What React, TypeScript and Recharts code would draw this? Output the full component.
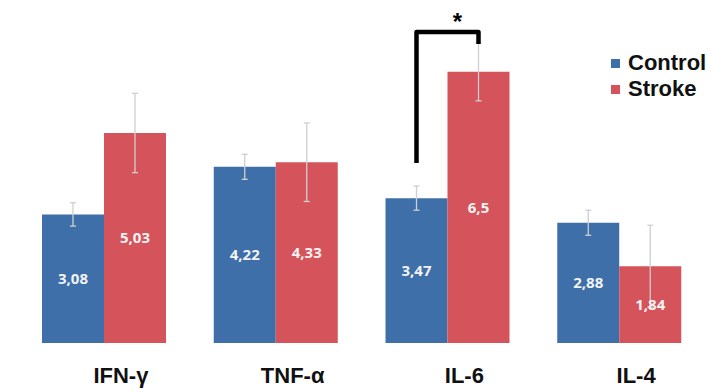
import { Bar, BarChart, ErrorBar, LabelList, Legend, XAxis, YAxis } from 'recharts';

const CATEGORIES = ['IFN-γ', 'TNF-α', 'IL-6', 'IL-4'];
const CONTROL = [3.08, 4.22, 3.47, 2.88];
const STROKE = [5.03, 4.33, 6.5, 1.84];
const CONTROL_ERR = [0.28, 0.3, 0.29, 0.3];
const STROKE_ERR = [0.95, 0.94, 0.7, 0.98];
// significance bracket: [top of bracket, left leg end, right leg end] in data units
const SIG = [null, null, [7.45, 4.31, 7.16], null];

const BLUE = '#3e6fa8';
const RED = '#d5535a';

const data = CATEGORIES.map((name, i) => ({
  name,
  control: CONTROL[i],
  stroke: STROKE[i],
  controlErr: CONTROL_ERR[i],
  strokeErr: STROKE_ERR[i],
  sig: SIG[i],
}));

const fmt = (v: number) => String(v).replace('.', ',');

function Tick({ x, y, payload }: any) {
  return (
    <text
      x={x + 17}
      y={y + 32}
      textAnchor="middle"
      fontFamily="'Liberation Sans', Arial, sans-serif"
      fontWeight={700}
      fontSize={22}
      fill="#111"
    >
      {payload.value}
    </text>
  );
}

function Bracket(props: any) {
  const { x, y, width, height, index, value } = props;
  const sig = SIG[index];
  if (!sig) return null;
  const base = y + height;
  const ppu = height / value;
  const lx = x - width / 2;
  const rx = x + width / 2;
  const top = base - sig[0] * ppu;
  const lEnd = base - sig[1] * ppu;
  const rEnd = base - sig[2] * ppu;
  return (
    <g>
      <path
        d={`M${lx},${lEnd} L${lx},${top} L${rx},${top} L${rx},${rEnd}`}
        fill="none"
        stroke="#000"
        strokeWidth={4.5}
        strokeLinejoin="round"
      />
      <text
        x={(lx + rx) / 2 + 10}
        y={top - 2}
        textAnchor="middle"
        fontFamily="'Liberation Sans', Arial, sans-serif"
        fontWeight={700}
        fontSize={24}
        fill="#000"
      >
        *
      </text>
    </g>
  );
}

function LegendBox() {
  const items = [
    { label: 'Control', color: BLUE },
    { label: 'Stroke', color: RED },
  ];
  return (
    <div>
      {items.map((it) => (
        <div
          key={it.label}
          style={{
            display: 'flex',
            alignItems: 'center',
            height: 26,
            fontFamily: "'Liberation Sans', Arial, sans-serif",
            fontWeight: 700,
            fontSize: 22,
            color: '#111',
            whiteSpace: 'nowrap',
          }}
        >
          <span style={{ width: 9, height: 9, background: it.color, marginRight: 8, display: 'inline-block' }} />
          {it.label}
        </div>
      ))}
    </div>
  );
}

export default function App() {
  return (
    <div style={{ position: 'absolute', left: 0, top: 0, width: 711, height: 389, background: '#fff', overflow: 'hidden' }}>
      <BarChart
        width={711}
        height={389}
        data={data}
        margin={{ top: 9, right: 6, bottom: 6, left: 18 }}
        barGap={0}
        barSize={62}
      >
        <XAxis
          dataKey="name"
          height={40}
          axisLine={false}
          tickLine={false}
          tick={<Tick />}
          interval={0}
        />
        <YAxis hide domain={[0, 8]} />
        <Legend
          layout="horizontal"
          verticalAlign="middle"
          align="center"
          content={<LegendBox />}
          wrapperStyle={{ top: 50, left: 611, width: 140 }}
        />
        <Bar dataKey="control" name="Control" fill={BLUE} isAnimationActive={false}>
          <ErrorBar dataKey="controlErr" width={3} stroke="#cfcfcf" strokeWidth={1.3} direction="y" />
          <LabelList
            dataKey="control"
            position="center"
            formatter={fmt}
            fill="#f3f3f3"
            fontFamily="'Open Sans', sans-serif"
            fontWeight={700}
            fontSize={15}
          />
        </Bar>
        <Bar dataKey="stroke" name="Stroke" fill={RED} isAnimationActive={false}>
          <ErrorBar dataKey="strokeErr" width={3} stroke="#cfcfcf" strokeWidth={1.3} direction="y" />
          <LabelList
            dataKey="stroke"
            position="center"
            formatter={fmt}
            fill="#f3f3f3"
            fontFamily="'Open Sans', sans-serif"
            fontWeight={700}
            fontSize={15}
          />
          <LabelList dataKey="stroke" content={<Bracket />} />
        </Bar>
      </BarChart>
    </div>
  );
}
